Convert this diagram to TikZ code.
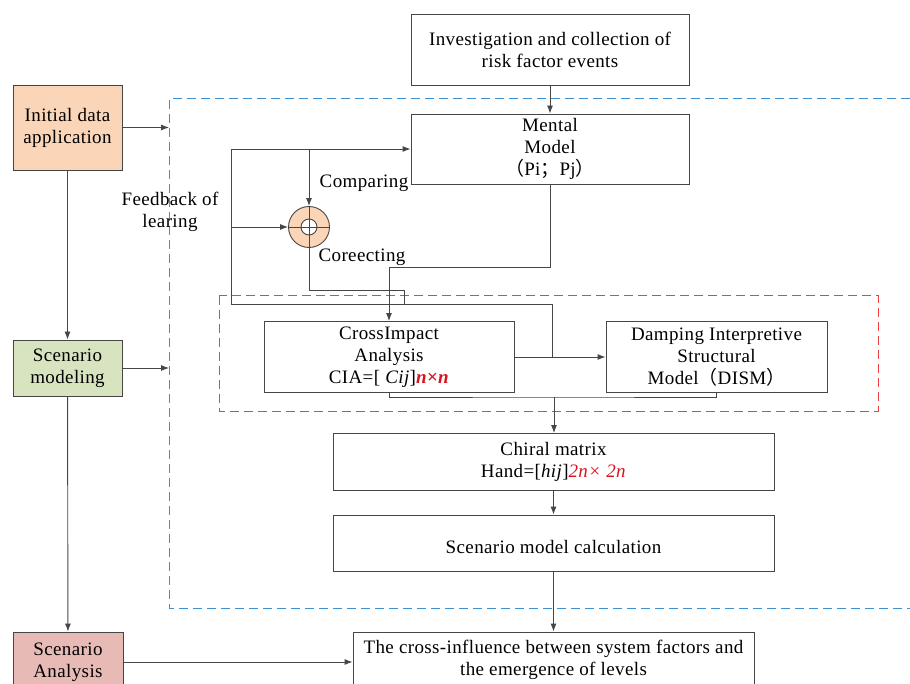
\documentclass[tikz,border=0pt]{standalone}
\usepackage{fontspec}
\setmainfont{Liberation Serif}[LetterSpace=2]
\newfontfamily\cjk{Noto Sans CJK SC}
\usetikzlibrary{arrows.meta}
\definecolor{linegray}{RGB}{70,70,70}
\definecolor{peach}{RGB}{250,213,183}
\definecolor{sage}{RGB}{216,227,192}
\definecolor{rose}{RGB}{231,186,182}
\definecolor{frameblue}{RGB}{60,145,212}
\definecolor{framered}{RGB}{240,64,64}
\definecolor{mred}{RGB}{215,20,30}

\begin{document}
\begin{tikzpicture}[x=1pt,y=-1pt,
  box/.style={draw=linegray, line width=0.9pt, align=center, inner sep=0pt, font=\fontsize{19}{22}\selectfont},
  flow/.style={draw=linegray, line width=0.9pt, -{Latex[length=8pt,width=6pt]}},
  wire/.style={draw=linegray, line width=0.9pt},
  lbl/.style={font=\fontsize{19}{22}\selectfont, align=center}]
\useasboundingbox (0,0) rectangle (910,684);

% Frames
\draw[frameblue, line width=1pt, dash pattern=on 9pt off 5pt] (910,99) -- (169,99) -- (169,608) -- (910,608);
\draw[framered, line width=1pt, dash pattern=on 9pt off 5pt] (219,296) rectangle (878,411);

% Left column
\node[box, fill=peach, minimum width=109pt, minimum height=85pt] (initial) at (67.5,127.5) {Initial data\\application};
\node[box, fill=sage, minimum width=109pt, minimum height=56pt] (modeling) at (67.5,368) {Scenario\\modeling};
\node[box, fill=rose, minimum width=110pt, minimum height=60pt] (analysis) at (68,662) {Scenario\\Analysis};
\coordinate (entryA) at (169,127.5);
\coordinate (entryB) at (169,368);

% Main column
\node[box, minimum width=278pt, minimum height=71pt] (invest) at (550,49.5) {Investigation and collection of\\risk factor events};
\node[box, minimum width=278pt, minimum height=70pt] (mental) at (550,149) {Mental\\Model\\{\cjk （}Pi{\cjk ；}Pj{\cjk ）}};
\node[box, minimum width=250pt, minimum height=71pt] (cia) at (389,357) {CrossImpact\\Analysis\\CIA=[ \textit{Cij}]\textcolor{mred}{\textbf{\textit{n×n}}}};
\node[box, minimum width=221pt, minimum height=71pt] (dism) at (716.5,357) {Damping Interpretive\\Structural\\Model{\cjk （}DISM{\cjk ）}};
\node[box, minimum width=441pt, minimum height=57pt] (chiral) at (553.5,462) {Chiral matrix\\Hand=[\textit{hij}]\textcolor{mred}{\textit{2n× 2n}}};
\node[box, minimum width=441pt, minimum height=56pt, text height=25pt, text depth=4pt] (calc) at (553.5,543) {Scenario model calculation};
\node[box, minimum width=401pt, minimum height=56pt] (result) at (553.5,660) {The cross-influence between system factors and\\the emergence of levels};

% Comparing / correcting junction
\node[circle, draw=linegray, fill=peach, line width=0.9pt, minimum size=41pt, inner sep=0pt] (sum) at (309,227) {};
\node[circle, draw=linegray, fill=white, line width=0.9pt, minimum size=16pt, inner sep=0pt] (hole) at (sum) {};
\draw[wire] (sum.north) -- (sum.south) (sum.west) -- (sum.east);
\coordinate (tap) at (552,357);
\coordinate (loopL) at (231,304);
\coordinate (join) at (404,304);
\coordinate (merge) at (554,397);

% Labels
\node[lbl] (fbtext) at (170,212) {Feedback of\\learing};
\node[lbl] (cmp) at (364,183) {Comparing};
\node[lbl] (cor) at (362,257) {Coreecting};

% Connectors
\draw[flow] (initial.east) -- (entryA);
\draw[flow] (modeling.east) -- (entryB);
\draw[flow] (initial) -- (modeling);
\draw[flow] (modeling) -- (analysis);
\draw[flow] (analysis.east) -- (analysis.east -| result.west);
\draw[flow] (invest) -- (mental);
\draw[flow] (mental.south) -- ++(0,83) -| (cia.north);
\draw[flow] (cia.east) -- (dism.west);
\draw[flow] (tap) |- (loopL) |- (mental.west);
\draw[flow] (loopL |- sum) -- (sum.west);
\draw[flow] (sum |- mental.west) -- (sum.north);
\draw[wire] (sum.south) -- ++(0,43) -| (join);
\draw[wire] (cia.south) |- (merge) -| (dism.south);
\draw[flow] (merge) -- (merge |- chiral.north);
\draw[flow] (chiral) -- (calc);
\draw[flow] (calc.south) -- (calc.south |- result.north);
\end{tikzpicture}
\end{document}
